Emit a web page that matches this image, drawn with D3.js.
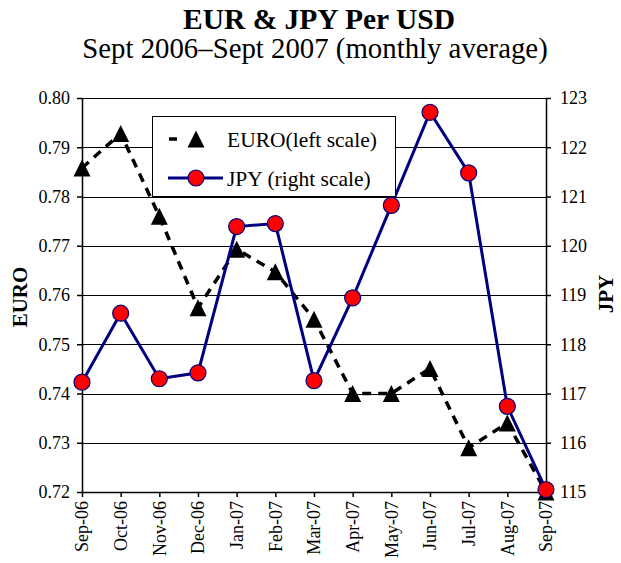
<!DOCTYPE html>
<html>
<head>
<meta charset="utf-8">
<script src="https://cdn.jsdelivr.net/npm/d3@7"></script>
<style>
  body { margin: 0; background: #fff; }
</style>
</head>
<body>
<div id="chart"></div>
<script>
// Data
var months = ["Sep-06", "Oct-06", "Nov-06", "Dec-06", "Jan-07", "Feb-07", "Mar-07",
              "Apr-07", "May-07", "Jun-07", "Jul-07", "Aug-07", "Sep-07"];
var euro = [0.7858, 0.7928, 0.7760, 0.7574, 0.7693, 0.7647, 0.7551,
            0.7400, 0.7400, 0.7451, 0.7290, 0.7340, 0.7200];
var jpy = [117.23, 118.63, 117.30, 117.42, 120.39, 120.45, 117.26,
           118.94, 120.82, 122.71, 121.48, 116.74, 115.05];
var euroTicks = [0.72, 0.73, 0.74, 0.75, 0.76, 0.77, 0.78, 0.79, 0.80];
var jpyTicks = [115, 116, 117, 118, 119, 120, 121, 122, 123];

var W = 621, H = 563;
var plot = {left: 82, right: 546, top: 98, bottom: 492};
var serif = "'Liberation Serif', 'Times New Roman', Times, serif";

var svg = d3.select("#chart").append("svg")
  .attr("width", W)
  .attr("height", H)
  .attr("font-family", serif);

// Titles
svg.append("text")
  .attr("x", 319).attr("y", 29)
  .attr("text-anchor", "middle")
  .attr("font-family", serif)
  .style("font-weight", "bold")
  .style("font-size", "29.5px")
  .text("EUR & JPY Per USD");
svg.append("text")
  .attr("x", 315).attr("y", 58)
  .attr("text-anchor", "middle")
  .attr("font-family", serif)
  .style("font-size", "28.8px")
  .text("Sept 2006\u2013Sept 2007 (monthly average)");

// Scales
var x = d3.scalePoint().domain(months).range([plot.left, plot.right]);
var yL = d3.scaleLinear().domain([0.72, 0.80]).range([plot.bottom, plot.top]);
var yR = d3.scaleLinear().domain([115, 123]).range([plot.bottom, plot.top]);

// Gridlines
svg.append("g")
  .selectAll("line")
  .data(euroTicks)
  .enter()
  .append("line")
    .attr("x1", plot.left).attr("x2", plot.right)
    .attr("y1", function(d) { return Math.round(yL(d)) + 0.5; })
    .attr("y2", function(d) { return Math.round(yL(d)) + 0.5; })
    .attr("stroke", "#000")
    .attr("stroke-width", 1);

// Axes
function styleAxis(g, size) {
  g.attr("font-family", serif).attr("font-size", size);
  g.select(".domain").attr("stroke", "#000").attr("stroke-width", 1.5);
  g.selectAll(".tick line").attr("stroke", "#000").attr("stroke-width", 1.5);
  g.selectAll(".tick text").attr("fill", "#000");
}

var gL = svg.append("g")
  .attr("transform", "translate(" + plot.left + ",0)")
  .call(d3.axisLeft(yL).tickValues(euroTicks).tickFormat(d3.format(".2f"))
    .tickSize(5).tickSizeOuter(0).tickPadding(7));
styleAxis(gL, 18);

var gR = svg.append("g")
  .attr("transform", "translate(" + plot.right + ",0)")
  .call(d3.axisRight(yR).tickValues(jpyTicks).tickFormat(d3.format("d"))
    .tickSize(5).tickSizeOuter(0).tickPadding(9));
styleAxis(gR, 18);

var gB = svg.append("g")
  .attr("transform", "translate(0," + plot.bottom + ")")
  .call(d3.axisBottom(x).tickSize(5).tickSizeOuter(0).tickPadding(0));
styleAxis(gB, 18);
gB.selectAll(".tick text")
  .attr("transform", "rotate(-90)")
  .attr("text-anchor", "end")
  .attr("x", -9)
  .attr("y", 0)
  .attr("dy", "0.33em");

// Axis titles
svg.append("text")
  .attr("transform", "translate(27,297) rotate(-90)")
  .attr("text-anchor", "middle")
  .style("font-weight", "bold")
  .style("font-size", "21px")
  .text("EURO");
svg.append("text")
  .attr("transform", "translate(613,294) rotate(-90)")
  .attr("text-anchor", "middle")
  .style("font-weight", "bold")
  .style("font-size", "21px")
  .text("JPY");

// EURO dashed line + triangles
var euroLine = d3.line()
  .x(function(d, i) { return x(months[i]); })
  .y(function(d) { return yL(d); });
svg.append("path")
  .datum(euro)
  .attr("d", euroLine)
  .attr("fill", "none")
  .attr("stroke", "#000")
  .attr("stroke-width", 3.5)
  .attr("stroke-dasharray", "9,7");

var tri = "M0,-8.5L8.5,8.5L-8.5,8.5Z";
svg.append("g")
  .selectAll("path")
  .data(euro)
  .enter()
  .append("path")
    .attr("d", tri)
    .attr("transform", function(d, i) { return "translate(" + x(months[i]) + "," + yL(d) + ")"; })
    .attr("fill", "#000");

// JPY line + circles
var jpyLine = d3.line()
  .x(function(d, i) { return x(months[i]); })
  .y(function(d) { return yR(d); });
svg.append("path")
  .datum(jpy)
  .attr("d", jpyLine)
  .attr("fill", "none")
  .attr("stroke", "#000080")
  .attr("stroke-width", 3);

svg.append("g")
  .selectAll("circle")
  .data(jpy)
  .enter()
  .append("circle")
    .attr("cx", function(d, i) { return x(months[i]); })
    .attr("cy", function(d) { return yR(d); })
    .attr("r", 8)
    .attr("fill", "#ff0000")
    .attr("stroke", "#000080")
    .attr("stroke-width", 1.2);

// Legend
var lg = svg.append("g");
lg.append("rect")
  .attr("x", 152.5).attr("y", 116.5)
  .attr("width", 243).attr("height", 80)
  .attr("fill", "#fff")
  .attr("stroke", "#000")
  .attr("stroke-width", 1);

lg.append("line")
  .attr("x1", 169).attr("x2", 177)
  .attr("y1", 139).attr("y2", 139)
  .attr("stroke", "#000").attr("stroke-width", 3.5);
lg.append("path")
  .attr("d", tri)
  .attr("transform", "translate(196,139)")
  .attr("fill", "#000");
lg.append("text")
  .attr("x", 227).attr("y", 139).attr("dy", "0.35em")
  .style("font-size", "21.5px")
  .text("EURO(left scale)");

lg.append("line")
  .attr("x1", 168).attr("x2", 223)
  .attr("y1", 178).attr("y2", 178)
  .attr("stroke", "#000080").attr("stroke-width", 3);
lg.append("circle")
  .attr("cx", 196).attr("cy", 178).attr("r", 8)
  .attr("fill", "#ff0000")
  .attr("stroke", "#000080")
  .attr("stroke-width", 1.2);
lg.append("text")
  .attr("x", 227).attr("y", 178).attr("dy", "0.35em")
  .style("font-size", "21.5px")
  .text("JPY (right scale)");
</script>
</body>
</html>
